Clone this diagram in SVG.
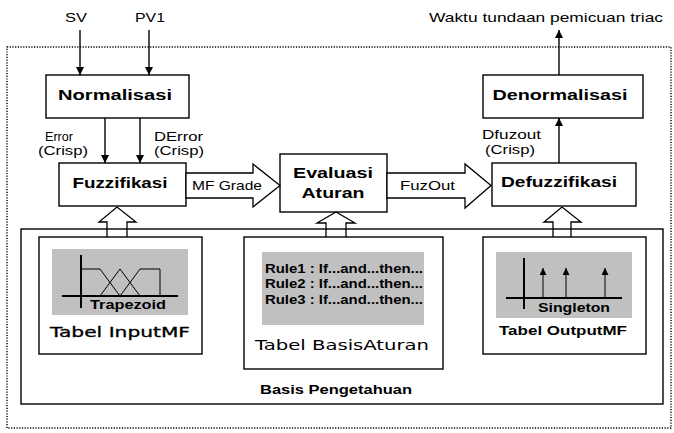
<svg xmlns="http://www.w3.org/2000/svg" width="674" height="433" viewBox="0 0 674 433">
  <defs>
    <marker id="arr" viewBox="0 0 10 10" refX="10" refY="5" markerWidth="8" markerHeight="8" markerUnits="userSpaceOnUse" orient="auto">
      <path d="M0,0 L10,5 L0,10 z" fill="#000"/>
    </marker>
    <marker id="arrS" viewBox="0 0 10 10" refX="10" refY="5" markerWidth="7" markerHeight="7" markerUnits="userSpaceOnUse" orient="auto">
      <path d="M0,0 L10,5 L0,10 z" fill="#000"/>
    </marker>
  </defs>
  <style>
    .box { fill: #fff; stroke: #000; stroke-width: 1.4; }
    .panel { fill: #c0c0c0; stroke: none; }
    .ln { stroke: #000; stroke-width: 1.4; fill: none; }
    .thin { stroke: #000; stroke-width: 1; fill: none; }
    .axis { stroke: #000; stroke-width: 2; fill: none; }
    .hollow { fill: none; stroke: #000; stroke-width: 1.3; }
    .block { fill: #fff; stroke: #000; stroke-width: 1.3; }
    .title { font-family: "Liberation Sans", Arial, sans-serif; font-weight: bold; font-size: 15px; fill: #000; }
    .lbl { font-family: "Liberation Sans", Arial, sans-serif; font-size: 13.5px; fill: #000; }
    .small { font-family: "Liberation Sans", Arial, sans-serif; font-weight: bold; font-size: 12px; fill: #000; }
    .tbl { font-family: "DejaVu Sans", Verdana, sans-serif; font-size: 14px; fill: #000; }
  </style>

  <rect width="674" height="433" fill="#fff"/>

  <!-- system boundary -->
  <rect x="7" y="47" width="664" height="381" fill="none" stroke="#000" stroke-width="1.4" stroke-dasharray="1.2 1.5"/>

  <!-- knowledge base frame -->
  <g id="basis-pengetahuan">
    <rect class="box" x="21" y="229" width="642" height="175"/>
    <text class="small" x="336" y="394" text-anchor="middle" textLength="152" lengthAdjust="spacingAndGlyphs">Basis Pengetahuan</text>
  </g>

  <!-- processing blocks -->
  <g id="normalisasi">
    <rect class="box" x="46" y="75" width="143" height="43"/>
    <text class="title" x="115" y="100" text-anchor="middle" textLength="114" lengthAdjust="spacingAndGlyphs">Normalisasi</text>
  </g>
  <g id="fuzzifikasi">
    <rect class="box" x="59" y="163" width="127" height="43"/>
    <text class="title" x="120" y="188" text-anchor="middle" textLength="95" lengthAdjust="spacingAndGlyphs">Fuzzifikasi</text>
  </g>
  <g id="evaluasi-aturan">
    <rect class="box" x="280" y="154" width="107" height="58"/>
    <text class="title" x="333" y="178" text-anchor="middle" textLength="80" lengthAdjust="spacingAndGlyphs">Evaluasi</text>
    <text class="title" x="333" y="198" text-anchor="middle" textLength="63" lengthAdjust="spacingAndGlyphs">Aturan</text>
  </g>
  <g id="defuzzifikasi">
    <rect class="box" x="492" y="163" width="144" height="43"/>
    <text class="title" x="559" y="187" text-anchor="middle" textLength="116" lengthAdjust="spacingAndGlyphs">Defuzzifikasi</text>
  </g>
  <g id="denormalisasi">
    <rect class="box" x="483" y="75" width="160" height="43"/>
    <text class="title" x="560" y="100" text-anchor="middle" textLength="135" lengthAdjust="spacingAndGlyphs">Denormalisasi</text>
  </g>

  <!-- tables -->
  <g id="tabel-inputmf">
    <rect class="box" x="39" y="237" width="163" height="117"/>
    <rect class="panel" x="52" y="249" width="136" height="66"/>
    <line class="axis" x1="81" y1="255" x2="81" y2="308"/>
    <line class="axis" x1="62" y1="296" x2="178" y2="296"/>
    <polyline class="thin" points="81,269 100,269 120,296"/>
    <polyline class="thin" points="100,296 120,269 140,296"/>
    <polyline class="thin" points="120,296 140,269 160,269 160,296"/>
    <text class="small" x="128" y="309" text-anchor="middle" textLength="76" lengthAdjust="spacingAndGlyphs">Trapezoid</text>
    <text class="tbl" x="120" y="337" text-anchor="middle" stroke="#000" stroke-width="0.3" textLength="140" lengthAdjust="spacingAndGlyphs">Tabel InputMF</text>
  </g>
  <g id="tabel-basisaturan">
    <rect class="box" x="244" y="237" width="199" height="132"/>
    <rect class="panel" x="262" y="252" width="162" height="73"/>
    <text class="small" x="265" y="273" textLength="158" lengthAdjust="spacingAndGlyphs">Rule1 : If...and...then...</text>
    <text class="small" x="265" y="288" textLength="158" lengthAdjust="spacingAndGlyphs">Rule2 : If...and...then...</text>
    <text class="small" x="265" y="304" textLength="158" lengthAdjust="spacingAndGlyphs">Rule3 : If...and...then...</text>
    <text class="tbl" x="342" y="350" text-anchor="middle" textLength="174" lengthAdjust="spacingAndGlyphs">Tabel BasisAturan</text>
  </g>
  <g id="tabel-outputmf">
    <rect class="box" x="483" y="237" width="163" height="117"/>
    <rect class="panel" x="496" y="252" width="136" height="66"/>
    <line class="axis" x1="524" y1="258" x2="524" y2="309"/>
    <line class="axis" x1="506" y1="298" x2="622" y2="298"/>
    <line class="thin" x1="543" y1="298" x2="543" y2="268" marker-end="url(#arrS)"/>
    <line class="thin" x1="566" y1="298" x2="566" y2="268" marker-end="url(#arrS)"/>
    <line class="thin" x1="605" y1="298" x2="605" y2="268" marker-end="url(#arrS)"/>
    <text class="small" x="574" y="312" text-anchor="middle" textLength="72" lengthAdjust="spacingAndGlyphs">Singleton</text>
    <text class="small" x="563" y="335" text-anchor="middle" font-size="14" textLength="128" lengthAdjust="spacingAndGlyphs">Tabel OutputMF</text>
  </g>

  <!-- connectors -->
  <g id="connectors">
    <line class="ln" x1="80" y1="30" x2="80" y2="75" marker-end="url(#arr)"/>
    <line class="ln" x1="149" y1="30" x2="149" y2="75" marker-end="url(#arr)"/>
    <line class="ln" x1="105" y1="118" x2="105" y2="163" marker-end="url(#arr)"/>
    <line class="ln" x1="140" y1="118" x2="140" y2="163" marker-end="url(#arr)"/>
    <line class="ln" x1="559" y1="163" x2="559" y2="118" marker-end="url(#arr)"/>
    <line class="ln" x1="559" y1="75" x2="559" y2="30" marker-end="url(#arr)"/>

    <!-- fuzzy data flows -->
    <polygon class="block" points="186,173 253,173 253,164 280,185.5 253,207 253,198 186,198"/>
    <polygon class="block" points="387,173 465,173 465,164 491,185.5 465,208 465,198 387,198"/>

    <!-- knowledge base feeds -->
    <polyline class="hollow" points="107,237 107,222 99,222 117,207 136,222 127,222 127,237"/>
    <polyline class="hollow" points="326,237 326,223 317,223 336,212 355,223 346,223 346,237"/>
    <polyline class="hollow" points="553,237 553,222 544,222 562,207 581,222 571,222 571,237"/>

    <!-- labels -->
    <text class="lbl" x="65" y="22" textLength="22" lengthAdjust="spacingAndGlyphs">SV</text>
    <text class="lbl" x="135" y="22" textLength="30" lengthAdjust="spacingAndGlyphs">PV1</text>
    <text class="lbl" x="45" y="141" textLength="28" lengthAdjust="spacingAndGlyphs">Error</text>
    <text class="lbl" x="38" y="155" textLength="50" lengthAdjust="spacingAndGlyphs">(Crisp)</text>
    <text class="lbl" x="154" y="141" textLength="49" lengthAdjust="spacingAndGlyphs">DError</text>
    <text class="lbl" x="154" y="155" textLength="50" lengthAdjust="spacingAndGlyphs">(Crisp)</text>
    <text class="lbl" x="192" y="190" textLength="70" lengthAdjust="spacingAndGlyphs">MF Grade</text>
    <text class="lbl" x="400" y="190" textLength="55" lengthAdjust="spacingAndGlyphs">FuzOut</text>
    <text class="lbl" x="482" y="139" textLength="59" lengthAdjust="spacingAndGlyphs">Dfuzout</text>
    <text class="lbl" x="485" y="154" textLength="50" lengthAdjust="spacingAndGlyphs">(Crisp)</text>
    <text class="lbl" x="429" y="22" textLength="234" lengthAdjust="spacingAndGlyphs">Waktu tundaan pemicuan triac</text>
  </g>
</svg>
